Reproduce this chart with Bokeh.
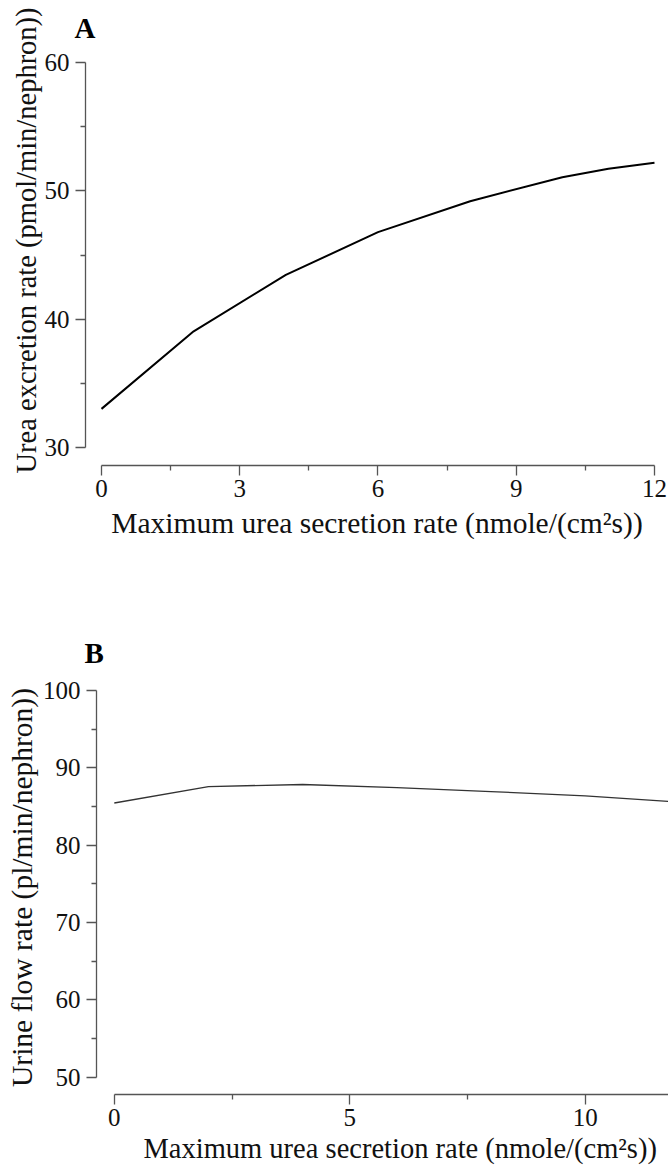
from bokeh.plotting import figure
from bokeh.models import FixedTicker, Range1d, Title
from bokeh.embed import file_html
from bokeh.resources import INLINE

# ---- data ----
secretion_a = [0, 2, 4, 6, 8, 10, 11, 12]
urea_excretion = [33.03, 39.07, 43.46, 46.79, 49.20, 51.07, 51.72, 52.19]

secretion_b = [0, 2, 4, 6, 8, 10, 12]
urine_flow = [85.45, 87.58, 87.84, 87.45, 86.93, 86.38, 85.55]

xticks_a = [0, 3, 6, 9, 12]
xminor_a = [1.5, 4.5, 7.5, 10.5]
yticks_a = [30, 40, 50, 60]
yminor_a = [35, 45, 55]
xticks_b = [0, 5, 10]
xminor_b = [2.5, 7.5]
yticks_b = [50, 60, 70, 80, 90, 100]
yminor_b = [55, 65, 75, 85, 95]

xlabel = "Maximum urea secretion rate (nmole/(cm\u00b2s))"
ylabel_a = "Urea excretion rate (pmol/min/nephron))"
ylabel_b = "Urine flow rate (pl/min/nephron))"

FONT = "Liberation Serif"
AXC = "#555555"


def style(p, xt, xm, yt, ym, xb, yb):
    p.xaxis.ticker = FixedTicker(ticks=xt, minor_ticks=xm)
    p.yaxis.ticker = FixedTicker(ticks=yt, minor_ticks=ym)
    p.xaxis.bounds = xb
    p.yaxis.bounds = yb
    for ax in (p.xaxis[0], p.yaxis[0]):
        ax.axis_line_color = AXC
        ax.axis_line_width = 1.3
        ax.major_tick_line_color = AXC
        ax.minor_tick_line_color = AXC
        ax.major_tick_line_width = 1.3
        ax.minor_tick_line_width = 1.3
        ax.major_tick_out = 10
        ax.major_tick_in = 0
        ax.minor_tick_out = 5
        ax.minor_tick_in = 0
        ax.major_label_text_font = FONT
        ax.major_label_text_font_size = "25px"
        ax.major_label_text_color = "#111111"
        ax.axis_label_text_font = FONT
        ax.axis_label_text_font_size = "29.5px"
        ax.axis_label_text_font_style = "normal"
        ax.axis_label_text_color = "#111111"
    p.xaxis.major_label_standoff = 4
    p.yaxis.major_label_standoff = 6
    p.grid.visible = False
    p.outline_line_color = None
    p.background_fill_color = "white"
    p.border_fill_color = "white"


def side_text(text, align, offset, standoff, bold=False, size="28.5px",
              valign="bottom"):
    return Title(text=text, align=align, offset=offset, standoff=standoff,
                 vertical_align=valign,
                 text_font=FONT, text_font_size=size,
                 text_font_style="bold" if bold else "normal",
                 text_color="black" if bold else "#111111")


# ---- panel A ----
pa = figure(width=668, height=575, output_backend="svg", toolbar_location=None,
            x_range=Range1d(-0.347, 12.304), y_range=Range1d(28.62, 60.545),
            min_border_left=85, min_border_right=0, min_border_top=55,
            min_border_bottom=110)
pa.line(secretion_a, urea_excretion, line_color="black", line_width=2)
pa.xaxis.axis_label = xlabel
pa.xaxis.axis_label_standoff = 7
style(pa, xticks_a, xminor_a, yticks_a, yminor_a, (0, 12), (30, 60))
pa.add_layout(side_text(ylabel_a, "left", -8, 0), "left")
pa.add_layout(side_text("A", "left", -11, 20, bold=True, size="29px",
                        valign="top"), "above")

# ---- panel B ----
pb = figure(width=668, height=595, output_backend="svg", toolbar_location=None,
            x_range=Range1d(-0.378, 11.77), y_range=Range1d(47.76, 101.29),
            min_border_left=96, min_border_right=0, min_border_top=105,
            min_border_bottom=76)
pb.line(secretion_b, urine_flow, line_color="#333333", line_width=1.3)
pb.yaxis.axis_label = ylabel_b
pb.yaxis.axis_label_standoff = 2
style(pb, xticks_b, xminor_b, yticks_b, yminor_b, (0, 11.77), (50, 100))
pb.add_layout(side_text(xlabel, "left", 47, 4), "below")
pb.add_layout(side_text("B", "left", -12, 24, bold=True, size="29px"), "above")

open("out.html", "w").write(file_html([pa, pb], INLINE))
